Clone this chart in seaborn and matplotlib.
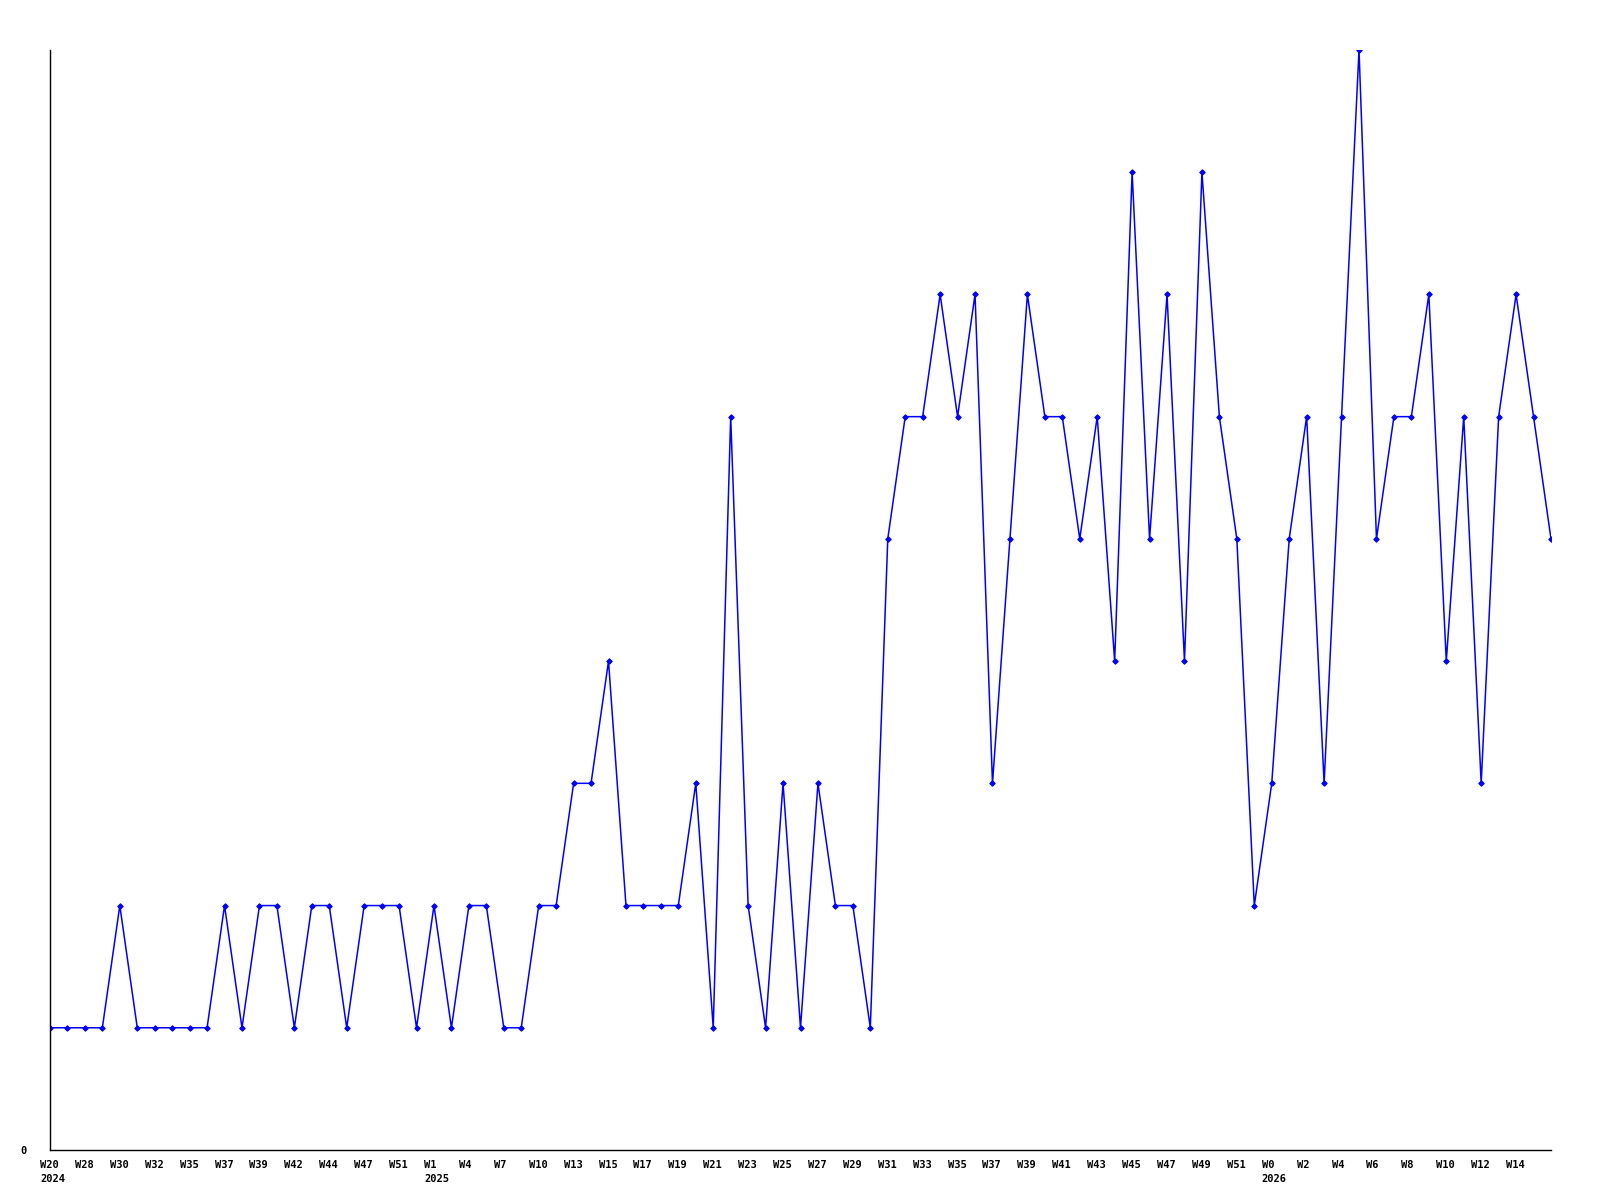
import numpy as np
import pandas as pd
import seaborn as sns
import matplotlib
matplotlib.use("Agg")
import matplotlib.pyplot as plt
from matplotlib.transforms import ScaledTranslation

# ---- data ----
values = [1, 1, 1, 1, 2, 1, 1, 1, 1, 1, 2, 1, 2, 2, 1, 2, 2, 1, 2, 2,
          2, 1, 2, 1, 2, 2, 1, 1, 2, 2, 3, 3, 4, 2, 2, 2, 2, 3, 1, 6,
          2, 1, 3, 1, 3, 2, 2, 1, 5, 6, 6, 7, 6, 7, 3, 5, 7, 6, 6, 5,
          6, 4, 8, 5, 7, 4, 8, 6, 5, 2, 3, 5, 6, 3, 6, 9, 5, 6, 6, 7,
          4, 6, 3, 6, 7, 6, 5]
tick_labels = ["W20\n2024", "W28", "W30", "W32", "W35", "W37", "W39", "W42", "W44",
               "W47", "W51", "W1\n2025", "W4", "W7", "W10", "W13", "W15", "W17",
               "W19", "W21", "W23", "W25", "W27", "W29", "W31", "W33", "W35",
               "W37", "W39", "W41", "W43", "W45", "W47", "W49", "W51",
               "W0\n2026", "W2", "W4", "W6", "W8", "W10", "W12", "W14"]
y_tick_values = [0]
y_tick_labels = ["0"]

df = pd.DataFrame({"idx": np.arange(len(values)), "value": values})

sns.set_style("white")
plt.rcParams["font.family"] = ["DejaVu Sans Mono", "DejaVu Sans"]

fig = plt.figure(figsize=(16, 12), dpi=100)
ax = fig.add_axes([50 / 1600, 50 / 1200, 1501 / 1600, 1100 / 1200])

sns.lineplot(data=df, x="idx", y="value", ax=ax, color="#0000ff",
             linewidth=1.1, marker="D", markersize=2.8,
             markeredgecolor="#0000ff", markerfacecolor="#0000ff")

ax.set_xlim(0, len(values) - 1)
ax.set_ylim(0, 9)
ax.set_xlabel("")
ax.set_ylabel("")

tick_pos = np.arange(0, 2 * len(tick_labels), 2)
ax.set_xticks(tick_pos)
ax.set_xticklabels([])
offset = ScaledTranslation(-10 / 100, -10 / 100, fig.dpi_scale_trans)
trans = ax.get_xaxis_transform() + offset
for xp, lab in zip(tick_pos, tick_labels):
    ax.text(xp, 0, lab, transform=trans, ha="left", va="top",
            fontsize=7.5, fontweight="bold", linespacing=1.45,
            multialignment="left", color="black", clip_on=False)

ax.set_yticks(y_tick_values)
ax.set_yticklabels(y_tick_labels, fontsize=7.5, fontweight="bold")

ax.tick_params(axis="x", length=0, pad=7, colors="black")
ax.tick_params(axis="y", length=0, pad=17, colors="black")

for s in ["top", "right"]:
    ax.spines[s].set_visible(False)
for s in ["left", "bottom"]:
    ax.spines[s].set_color("black")
    ax.spines[s].set_linewidth(1)

ax.grid(False)
fig.savefig("out.png", dpi=100, facecolor="white")
